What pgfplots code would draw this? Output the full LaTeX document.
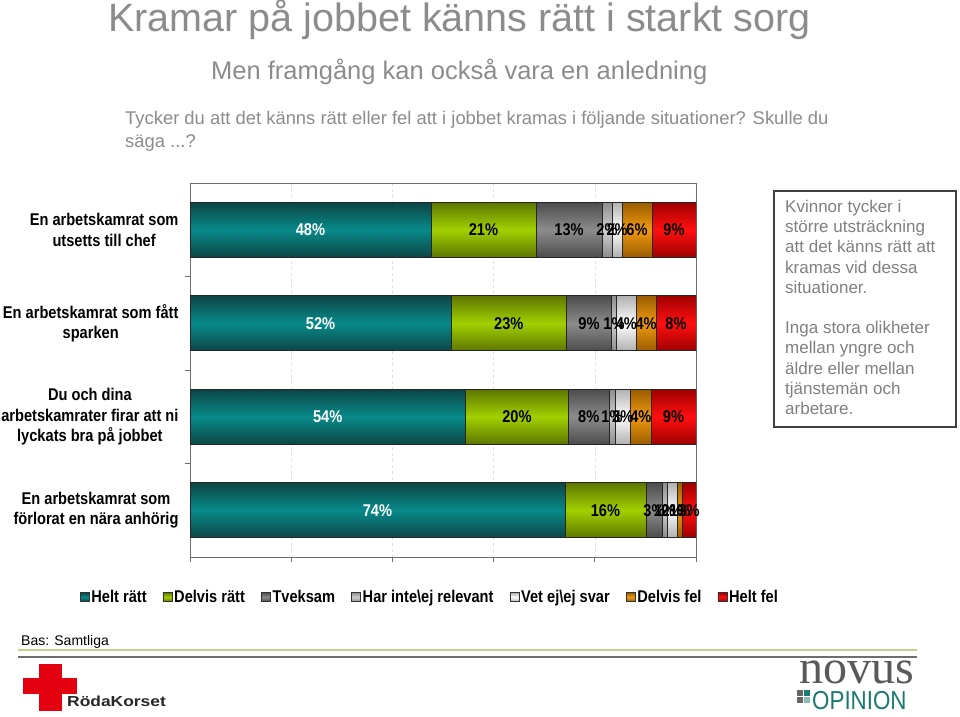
\documentclass[border=0pt]{standalone}
\usepackage{pgfplots}
\pgfplotsset{compat=1.18}
\usepackage{pgfplotstable}
\usepackage{fontspec}
\setmainfont{Liberation Sans}
\newfontfamily\narrow[FakeStretch=0.86]{Liberation Sans}
\newfontfamily\widefont[FakeStretch=1.2]{Liberation Sans}
\newfontfamily\seriffont{Liberation Serif}

\definecolor{tealM}{HTML}{088A8A}
\definecolor{tealE}{HTML}{0D4545}
\definecolor{greenM}{HTML}{A2D000}
\definecolor{greenE}{HTML}{5E7600}
\definecolor{grayM}{HTML}{8C8C8C}
\definecolor{grayE}{HTML}{4C4C4C}
\definecolor{lgrayM}{HTML}{D0D0D0}
\definecolor{lgrayE}{HTML}{8C8C8C}
\definecolor{whiteM}{HTML}{FFFFFF}
\definecolor{whiteE}{HTML}{B0B0B0}
\definecolor{orangeM}{HTML}{F09A10}
\definecolor{orangeE}{HTML}{9A5C00}
\definecolor{redM}{HTML}{FF1010}
\definecolor{redE}{HTML}{A00000}
\definecolor{titlegray}{HTML}{8C8C8C}
\definecolor{textgray}{HTML}{808080}
\definecolor{axisgray}{HTML}{6E6E6E}
\definecolor{boxgray}{HTML}{404040}
\definecolor{novusteal}{HTML}{1B7A70}
\definecolor{rkred}{HTML}{E3000F}
\definecolor{lineGreen}{HTML}{C3D48A}

\pgfplotsset{
  barS/.style 2 args={top color=#2, bottom color=#2, middle color=#1, draw=black!85, line width=0.6pt},
  lbl/.style={only marks, mark=none, point meta=explicit,
    nodes near coords={\pgfmathprintnumber[fixed,precision=0]{\pgfplotspointmeta}\%},
    every node near coord/.append style={anchor=center, text=#1, font=\narrow\bfseries\fontsize{17}{20}\selectfont}},
  band/.style={at={(190pt,{-183pt-93.5pt*(#1+1)})}, anchor=south west,
    width=506pt, height=93.5pt, scale only axis,
    xmin=0, xmax=100, ymin=-0.5, ymax=0.5, hide axis},
}

% one small table for each category (values in % of the bar)
\pgfplotstableread{
y helt delvisratt tveksam harinte vetej delvisfel heltfel
0 47.6 20.8 13.0 2.0 2.0 5.9 8.7
}\rowA
\pgfplotstableread{
y helt delvisratt tveksam harinte vetej delvisfel heltfel
0 51.6 22.8 8.9 1.0 3.9 3.9 7.9
}\rowB
\pgfplotstableread{
y helt delvisratt tveksam harinte vetej delvisfel heltfel
0 54.4 20.4 8.0 1.2 3.1 4.0 8.9
}\rowC
\pgfplotstableread{
y helt delvisratt tveksam harinte vetej delvisfel heltfel
0 74.1 16.0 3.2 1.0 2.0 1.0 2.7
}\rowD

% centres of the stacked segments (for the value labels)
\newcommand\addcenters[1]{%
\pgfplotstablecreatecol[create col/expr={\thisrow{helt}/2}]{c1}#1%
\pgfplotstablecreatecol[create col/expr={\thisrow{helt}+\thisrow{delvisratt}/2}]{c2}#1%
\pgfplotstablecreatecol[create col/expr={\thisrow{helt}+\thisrow{delvisratt}+\thisrow{tveksam}/2}]{c3}#1%
\pgfplotstablecreatecol[create col/expr={\thisrow{helt}+\thisrow{delvisratt}+\thisrow{tveksam}+\thisrow{harinte}/2}]{c4}#1%
\pgfplotstablecreatecol[create col/expr={\thisrow{helt}+\thisrow{delvisratt}+\thisrow{tveksam}+\thisrow{harinte}+\thisrow{vetej}/2}]{c5}#1%
\pgfplotstablecreatecol[create col/expr={\thisrow{helt}+\thisrow{delvisratt}+\thisrow{tveksam}+\thisrow{harinte}+\thisrow{vetej}+\thisrow{delvisfel}/2}]{c6}#1%
\pgfplotstablecreatecol[create col/expr={\thisrow{helt}+\thisrow{delvisratt}+\thisrow{tveksam}+\thisrow{harinte}+\thisrow{vetej}+\thisrow{delvisfel}+\thisrow{heltfel}/2}]{c7}#1%
}
\addcenters{\rowA}\addcenters{\rowB}\addcenters{\rowC}\addcenters{\rowD}

% one stacked bar plus its labels
\newcommand\categorybar[2]{%
\begin{axis}[band=#2, xbar stacked, bar width=55pt]
\addplot[barS={tealM}{tealE}] table[x=helt,y=y]{#1};
\addplot[barS={greenM}{greenE}] table[x=delvisratt,y=y]{#1};
\addplot[barS={grayM}{grayE}] table[x=tveksam,y=y]{#1};
\addplot[barS={lgrayM}{lgrayE}] table[x=harinte,y=y]{#1};
\addplot[barS={whiteM}{whiteE}] table[x=vetej,y=y]{#1};
\addplot[barS={orangeM}{orangeE}] table[x=delvisfel,y=y]{#1};
\addplot[barS={redM}{redE}] table[x=heltfel,y=y]{#1};
\end{axis}
\begin{axis}[band=#2, clip=false, /pgf/number format/assume math mode=true]
\addplot[lbl=white] table[x=c1,y=y,meta=helt]{#1};
\addplot[lbl=black] table[x=c2,y=y,meta=delvisratt]{#1};
\addplot[lbl=black] table[x=c3,y=y,meta=tveksam]{#1};
\addplot[lbl=black] table[x=c4,y=y,meta=harinte]{#1};
\addplot[lbl=black] table[x=c5,y=y,meta=vetej]{#1};
\addplot[lbl=black] table[x=c6,y=y,meta=delvisfel]{#1};
\addplot[lbl=black] table[x=c7,y=y,meta=heltfel]{#1};
\end{axis}}

\begin{document}
\begin{tikzpicture}
\path[use as bounding box, fill=white] (0pt,0pt) rectangle (960pt,-716pt);
% titles
\node[anchor=base west, inner sep=0, text=titlegray, font=\fontsize{39.5}{40}\selectfont] at (108pt,-31pt) {Kramar på jobbet känns rätt i starkt sorg};
\node[anchor=base west, inner sep=0, text=titlegray, font=\fontsize{25.5}{26}\selectfont] at (211pt,-79pt) {Men framgång kan också vara en anledning};
\node[anchor=base west, inner sep=0, text=titlegray, font=\fontsize{18.4}{23}\selectfont] at (125pt,-124pt) {Tycker du att det känns rätt eller fel att i jobbet kramas i följande situationer? Skulle du};
\node[anchor=base west, inner sep=0, text=titlegray, font=\fontsize{18.4}{23}\selectfont] at (125pt,-147pt) {säga ...?};

% text box
\draw[boxgray, line width=1.3pt] (774pt,-191pt) rectangle (956pt,-427pt);
\node[anchor=north west, inner sep=0, text=textgray, align=left, font=\fontsize{17}{20.2}\selectfont] at (785pt,-200pt) {Kvinnor tycker i\\större utsträckning\\att det känns rätt att\\kramas vid dessa\\situationer.\\\mbox{}\\Inga stora olikheter\\mellan yngre och\\äldre eller mellan\\tjänstemän och\\arbetare.};

% frame axis: box, ticks, grid, category labels, legend
\begin{axis}[
  at={(190pt,-557pt)}, anchor=south west,
  width=506pt, height=374pt, scale only axis,
  xmin=0, xmax=100, ymin=-0.5, ymax=3.5, y dir=reverse,
  axis line style={draw=axisgray, line width=0.8pt},
  xtick={0,20,40,60,80,100}, xticklabels={},
  xtick pos=lower, ytick pos=left,
  tick align=outside, major tick length=5pt,
  tick style={draw=axisgray, line width=0.8pt},
  xmajorgrids, grid style={dashed, black!12},
  ytick={0.5,1.5,2.5}, yticklabels={},
  extra y ticks={0,1,2,3},
  extra y tick labels={{En arbetskamrat som\\utsetts till chef},{En arbetskamrat som fått\\sparken},{Du och dina\\arbetskamrater firar att ni\\lyckats bra på jobbet},{En arbetskamrat som\\förlorat en nära anhörig}},
  extra y tick style={tick style={draw=none}},
  yticklabel style={align=center, font=\narrow\bfseries\fontsize{17}{20.5}\selectfont, xshift=-3pt},
  legend columns=-1,
  legend style={at={(0.474,-0.107)}, anchor=center, draw=none, fill=none,
    font=\narrow\bfseries\fontsize{17}{20}\selectfont,
    /tikz/every even column/.append style={column sep=14pt}},
  legend image code/.code={\draw[#1, draw=black!80, line width=0.6pt] (-2pt,-4.5pt) rectangle (7pt,4.5pt);},
]
\addlegendimage{barS={tealM}{tealE}}
\addlegendimage{barS={greenM}{greenE}}
\addlegendimage{barS={grayM}{grayE}}
\addlegendimage{barS={lgrayM}{lgrayE}}
\addlegendimage{barS={whiteM}{whiteE}}
\addlegendimage{barS={orangeM}{orangeE}}
\addlegendimage{barS={redM}{redE}}
\legend{Helt rätt, Delvis rätt, Tveksam, Har inte\textbackslash ej relevant, Vet ej\textbackslash ej svar, Delvis fel, Helt fel}
\end{axis}

% the four bars
\categorybar{\rowA}{0}
\categorybar{\rowB}{1}
\categorybar{\rowC}{2}
\categorybar{\rowD}{3}

% footer
\node[anchor=base west, inner sep=0, font=\fontsize{14}{16}\selectfont] at (21pt,-645pt) {Bas: Samtliga};
\draw[lineGreen, line width=2pt] (18pt,-649.5pt) -- (917pt,-649.5pt);
\draw[axisgray, line width=2.5pt] (18pt,-657pt) -- (917pt,-657pt);
% Red Cross logo
\fill[rkred] (39pt,-664pt) rectangle (62pt,-711pt);
\fill[rkred] (23pt,-678pt) rectangle (77pt,-694pt);
\node[anchor=base west, inner sep=0, text=black!85, font=\widefont\bfseries\fontsize{14.5}{15}\selectfont] at (67pt,-706pt) {RödaKorset};
% Novus logo
\node[anchor=base west, inner sep=0, text=black!65, font=\seriffont\fontsize{48}{48}\selectfont] at (799pt,-683pt) {novus};
\node[anchor=base west, inner sep=0, text=novusteal, font=\narrow\fontsize{26}{26}\selectfont] at (812pt,-709pt) {OPINION};
\fill[black!60] (797pt,-690pt) rectangle (803pt,-696pt);
\fill[novusteal] (804pt,-690pt) rectangle (810pt,-696pt);
\fill[black!60] (797pt,-697pt) rectangle (803pt,-703pt);
\fill[novusteal!50] (804pt,-697pt) rectangle (810pt,-703pt);
\end{tikzpicture}
\end{document}
